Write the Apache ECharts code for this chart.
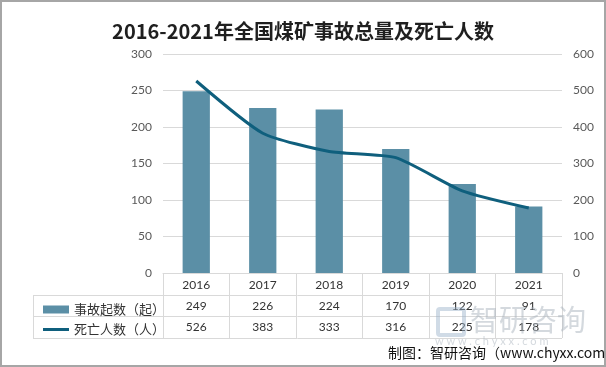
<!DOCTYPE html>
<html>
<head>
<meta charset="utf-8">
<script src="https://cdn.jsdelivr.net/npm/echarts@6/dist/echarts.min.js"></script>
<style>
html,body{margin:0;padding:0;background:#fff;}
#c{width:606px;height:367px;}
</style>
</head>
<body>
<div id="c"></div>
<script>
const years = ['2016', '2017', '2018', '2019', '2020', '2021'];
const accidents = [249, 226, 224, 170, 122, 91];
const deaths = [526, 383, 333, 316, 225, 178];
const leftTicks = {min: 0, max: 300, interval: 50};
const rightTicks = {min: 0, max: 600, interval: 100};
const seriesNames = ['事故起数（起）', '死亡人数（人）'];

const FONT = 'Lato, "Noto Sans CJK SC", sans-serif';
const barColor = '#5b8fa6';
const lineColor = '#0f5f7d';
const gridLine = '#d9d9d9';

const chart = echarts.init(document.getElementById('c'), null, {renderer: 'canvas'});
const rowAxis = (vals, offset) => ({
  type: 'category', data: vals.map(String), position: 'bottom', offset: offset,
  gridIndex: 0,
  axisLine: {show: false}, axisTick: {show: false},
  axisLabel: {color: '#333', fontSize: 12, fontFamily: FONT, margin: 6}
});
chart.setOption({
  animation: false,
  textStyle: {fontFamily: FONT},
  title: {
    text: '2016-2021年全国煤矿事故总量及死亡人数',
    left: 'center', top: 16,
    textStyle: {fontSize: 20, fontWeight: 'bold', color: '#1f1f1f', fontFamily: '"Noto Sans CJK SC", sans-serif'}
  },
  legend: {
    orient: 'vertical', left: 38, top: 298, itemWidth: 26, itemHeight: 8, itemGap: 7,
    textStyle: {fontSize: 13, color: '#333', fontFamily: '"Noto Sans CJK SC", sans-serif'},
    data: [
      {name: seriesNames[0], icon: 'rect'},
      {name: seriesNames[1], icon: 'path://M0,0 L26,0 L26,3 L0,3 Z'}
    ]
  },
  grid: {left: 163, right: 44, top: 54, bottom: 94},
  xAxis: [
    {
      type: 'category', data: years, boundaryGap: true,
      axisLine: {lineStyle: {color: gridLine}},
      axisTick: {show: true, length: 65, lineStyle: {color: gridLine}},
      axisLabel: {color: '#333', fontSize: 12, fontFamily: FONT, margin: 6}
    },
    rowAxis(accidents, 21),
    rowAxis(deaths, 42)
  ],
  yAxis: [
    {
      type: 'value', min: leftTicks.min, max: leftTicks.max, interval: leftTicks.interval,
      axisLine: {show: false}, axisTick: {show: false},
      splitLine: {lineStyle: {color: gridLine}},
      axisLabel: {color: '#595959', fontSize: 12, fontFamily: FONT, margin: 11}
    },
    {
      type: 'value', min: rightTicks.min, max: rightTicks.max, interval: rightTicks.interval,
      position: 'right',
      axisLine: {show: false}, axisTick: {show: false},
      splitLine: {show: false},
      axisLabel: {color: '#595959', fontSize: 12, fontFamily: FONT, margin: 11}
    }
  ],
  series: [
    {
      name: seriesNames[0], type: 'bar', data: accidents, barWidth: '41%',
      itemStyle: {color: barColor}, yAxisIndex: 0, xAxisIndex: 0
    },
    {
      name: seriesNames[1], type: 'line', data: deaths, yAxisIndex: 1, xAxisIndex: 0,
      smooth: 0.2, symbol: 'none', lineStyle: {color: lineColor, width: 3},
      itemStyle: {color: lineColor}
    }
  ],
  graphic: [
    {type: 'rect', shape: {x: 1, y: 1, width: 604, height: 365}, style: {fill: null, stroke: '#a6a6a6', lineWidth: 2}, silent: true},
    {type: 'line', shape: {x1: 33, y1: 295.5, x2: 562, y2: 295.5}, style: {stroke: gridLine, lineWidth: 1}},
    {type: 'line', shape: {x1: 33, y1: 316.5, x2: 562, y2: 316.5}, style: {stroke: gridLine, lineWidth: 1}},
    {type: 'line', shape: {x1: 33, y1: 338.5, x2: 562, y2: 338.5}, style: {stroke: gridLine, lineWidth: 1}},
    {type: 'line', shape: {x1: 33.5, y1: 295, x2: 33.5, y2: 338}, style: {stroke: gridLine, lineWidth: 1}},
    {type: 'text', left: 470, top: 305, z: 10, style: {text: '智研咨询', fontSize: 29, fill: 'rgba(170,180,190,0.5)', fontFamily: '"Noto Sans CJK SC", sans-serif'}},
    {type: 'text', left: 435, top: 336, z: 10, style: {text: 'w w w . c h y x x . c o m', fontSize: 11, fill: 'rgba(170,180,190,0.5)', fontFamily: FONT}},
    {type: 'rect', z: 10, shape: {x: 438, y: 309, width: 26, height: 26, r: 2}, style: {fill: null, stroke: 'rgba(150,175,200,0.45)', lineWidth: 4}},
    {type: 'text', left: 388, top: 346, style: {text: '制图：智研咨询（www.chyxx.com）', fontSize: 14, fill: '#111', fontFamily: '"Noto Sans CJK SC", sans-serif'}}
  ]
});
</script>
</body>
</html>
